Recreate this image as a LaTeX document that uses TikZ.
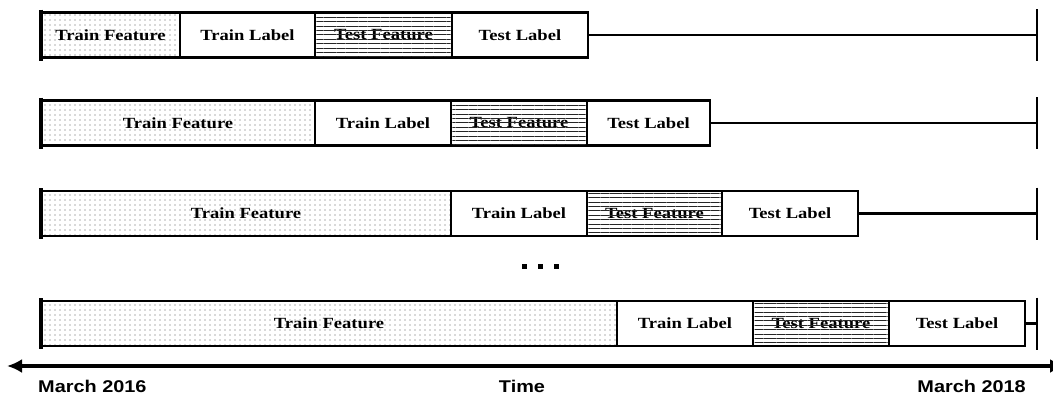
\documentclass[tikz,border=0pt]{standalone}
\usepackage{fontspec}
\newfontfamily\boxfont[FakeStretch=1.2]{Liberation Serif}
\newfontfamily\axisfont[FakeStretch=1.17]{Liberation Sans}
\usepackage{tikz}
\usetikzlibrary{arrows.meta, positioning, patterns.meta}

\begin{document}
\begin{tikzpicture}[
  x=1pt, y=-1pt,
  cell/.style={rectangle, draw, line width=2.8pt, minimum height=45pt, inner sep=0pt, outer sep=0pt, font=\boxfont\fontsize{15.5}{15.5}\selectfont\bfseries},
  trainbox/.style={cell, pattern={Dots[distance=5pt, radius=0.55pt]}, pattern color=black!65},
  lblbox/.style={cell},
  testbox/.style={cell},
  hatch/.style={pattern={Lines[angle=0, distance=4.4pt, line width=0.8pt]}, pattern color=black!85},
  bar/.style={line width=4pt},
  endbar/.style={line width=2.8pt},
  tail/.style={line width=2.6pt},
  axis/.style={{Latex[length=15pt,width=14pt]}-{Latex[length=15pt,width=14pt]}, line width=4pt},
  axislbl/.style={font=\axisfont\fontsize{17}{17}\selectfont\bfseries, inner sep=0pt},
]
\useasboundingbox (0,0) rectangle (1053,400);

% === Row 1 ===
\node[trainbox, minimum width=139pt, anchor=west] (tr1) at (41,35) {Train Feature};
\node[lblbox, minimum width=135pt, right=0pt of tr1] (tl1) {Train Label};
\node[testbox, minimum width=137pt, right=0pt of tl1] (tf1) {Test Feature};
\node[lblbox, minimum width=136pt, right=0pt of tf1] (tt1) {Test Label};
\coordinate (end1) at (1037,35);

% === Row 2 ===
\node[trainbox, minimum width=274pt, anchor=west] (tr2) at (41,123) {Train Feature};
\node[lblbox, minimum width=136pt, right=0pt of tr2] (tl2) {Train Label};
\node[testbox, minimum width=136pt, right=0pt of tl2] (tf2) {Test Feature};
\node[lblbox, minimum width=123pt, right=0pt of tf2] (tt2) {Test Label};
\coordinate (end2) at (1037,123);

% === Row 3 ===
\node[trainbox, minimum width=410pt, anchor=west] (tr3) at (41,213.5) {Train Feature};
\node[lblbox, minimum width=136pt, right=0pt of tr3] (tl3) {Train Label};
\node[testbox, minimum width=135pt, right=0pt of tl3] (tf3) {Test Feature};
\node[lblbox, minimum width=136pt, right=0pt of tf3] (tt3) {Test Label};
\coordinate (end3) at (1037,213.5);

% dots between row 3 and row 4
\foreach \x in {524,540,556}
  \fill (\x-2,264) rectangle ++(4.5,4.5);

% === Row 4 ===
\node[trainbox, minimum width=576pt, anchor=west] (tr4) at (41,323.5) {Train Feature};
\node[lblbox, minimum width=136pt, right=0pt of tr4] (tl4) {Train Label};
\node[testbox, minimum width=136pt, right=0pt of tl4] (tf4) {Test Feature};
\node[lblbox, minimum width=136pt, right=0pt of tf4] (tt4) {Test Label};
\coordinate (end4) at (1037,323.5);

% hatching over the test features (lines run through the text)
\foreach \n in {tf1,tf2,tf3,tf4}
  \fill[hatch] ([shift={(1.4pt,-1.4pt)}]\n.north west) rectangle ([shift={(-1.4pt,1.4pt)}]\n.south east);

% start bars, tails and end bars
\foreach \i in {1,2,3,4} {
  \draw[bar] ([yshift=3pt]tr\i.north west) -- ([yshift=-3pt]tr\i.south west);
  \draw[tail] (tt\i.east) -- (end\i);
  \draw[endbar] ([yshift=26pt]end\i) -- ([yshift=-26pt]end\i);
}

% === Time axis ===
\coordinate (tstart) at (7,366);
\coordinate (tstop) at (1065,366);
\draw[axis] (tstart) -- (tstop);
\node[axislbl, anchor=west] (from) at (38,386) {March 2016};
\node[axislbl] (time) at (522,386) {Time};
\node[axislbl, anchor=east] (to) at (1026,386) {March 2018};
\end{tikzpicture}
\end{document}
